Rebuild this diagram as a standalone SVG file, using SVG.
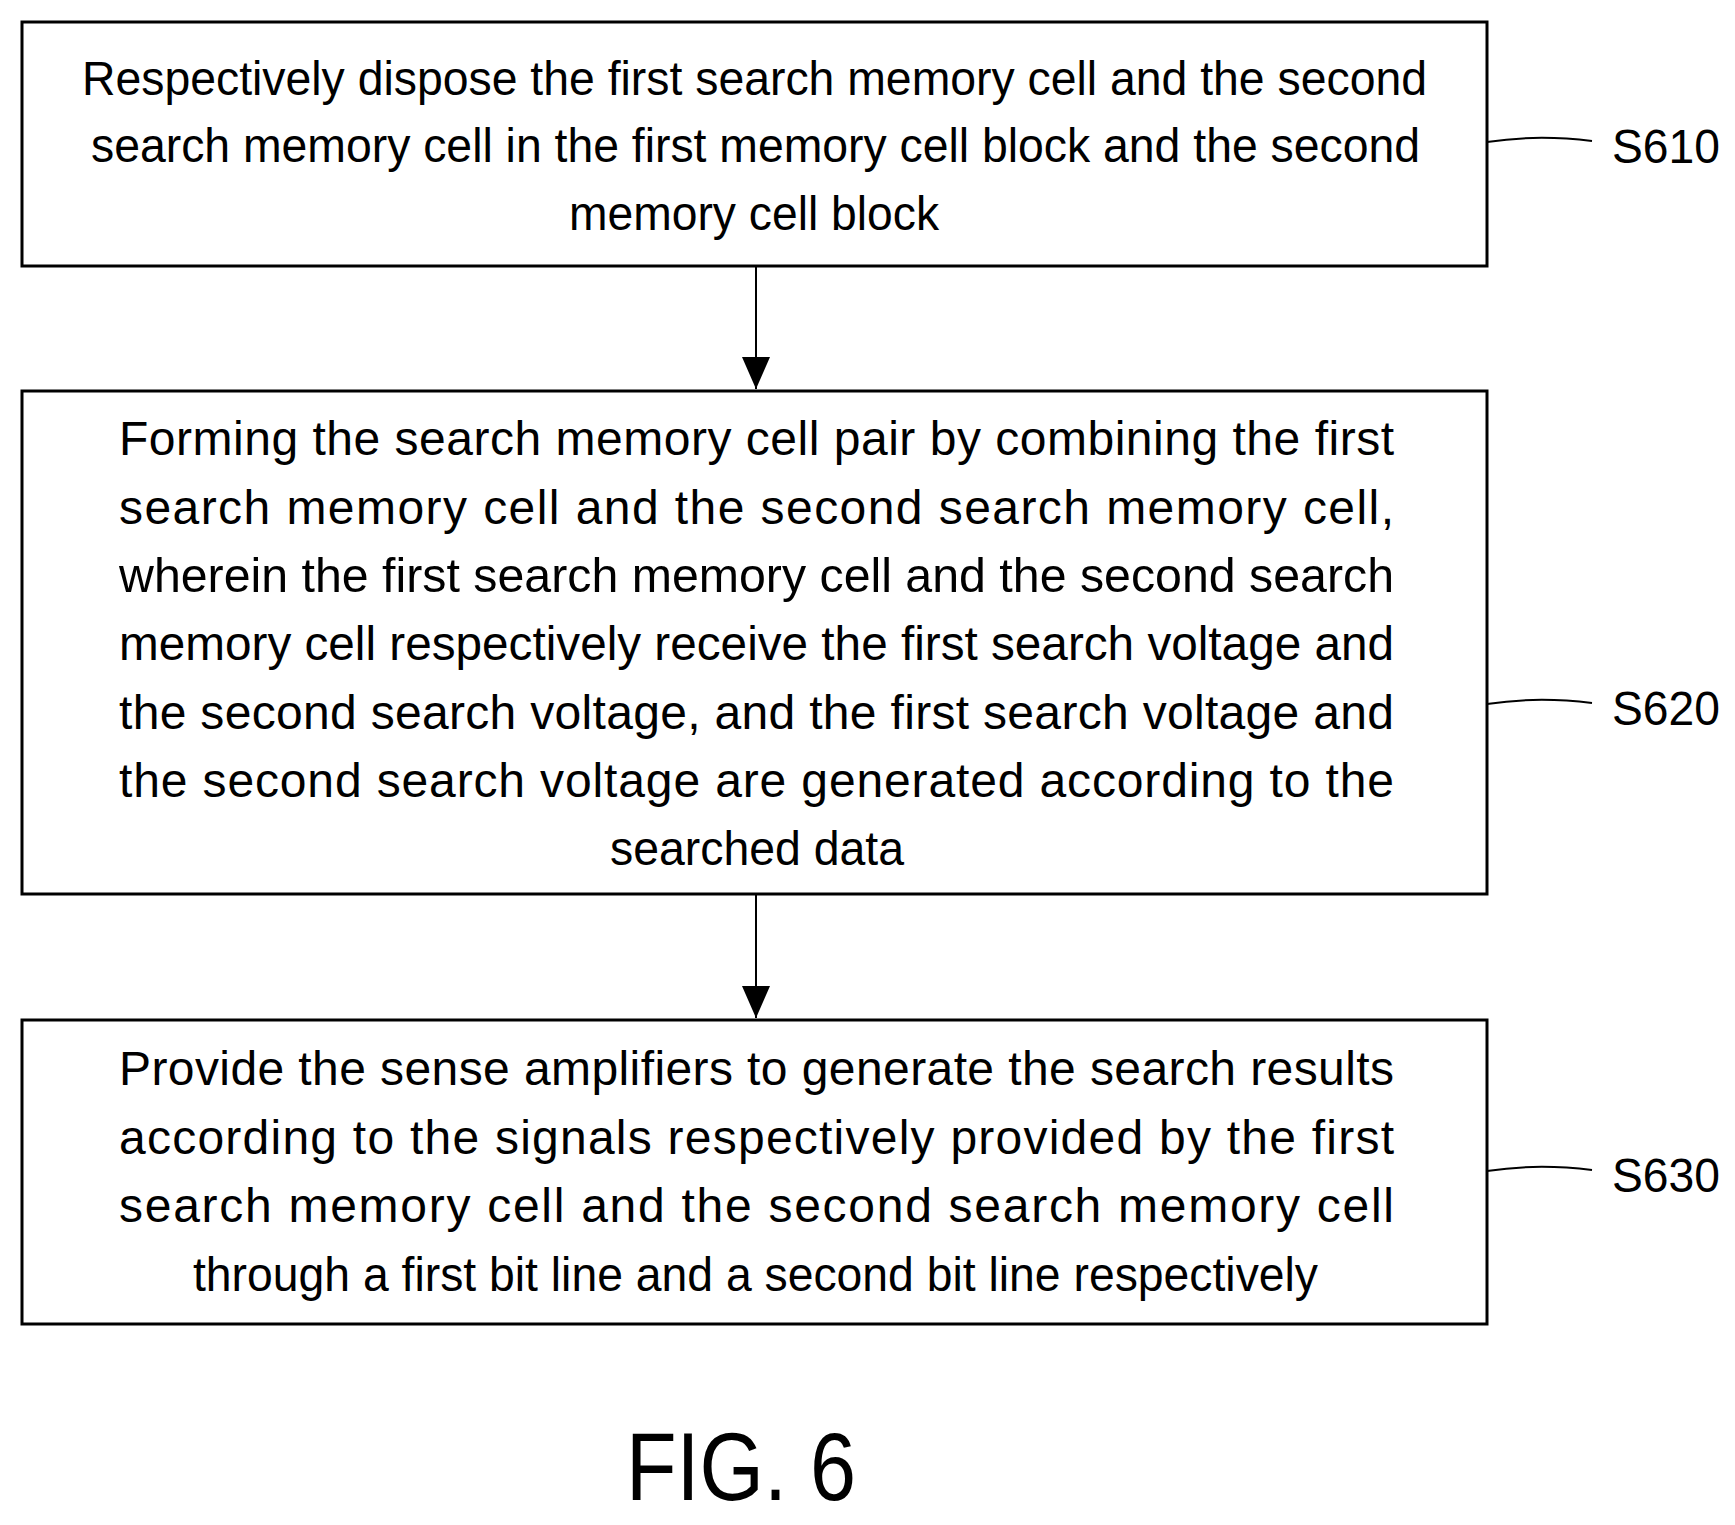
<svg xmlns="http://www.w3.org/2000/svg" width="1735" height="1525" viewBox="0 0 1735 1525">
<style>
.b{fill:#fff;stroke:#000;stroke-width:3}
.t{font-family:"Liberation Sans",Arial,sans-serif;font-size:48px;fill:#000}
.l{fill:none;stroke:#000;stroke-width:2}
</style>
<defs><marker id="a" markerWidth="28" markerHeight="32" refX="14" refY="32" orient="0" markerUnits="userSpaceOnUse"><path d="M0,0 L28,0 L14,32 Z"/></marker></defs>
<rect width="1735" height="1525" fill="#fff"/>
<g id="S610">
<rect class="b" x="22" y="22" width="1465" height="244"/>
<text class="t" x="82" y="95" textLength="1345" lengthAdjust="spacingAndGlyphs">Respectively dispose the first search memory cell and the second</text>
<text class="t" x="91" y="162" textLength="1329" lengthAdjust="spacingAndGlyphs">search memory cell in the first memory cell block and the second</text>
<text class="t" x="569" y="230" textLength="370" lengthAdjust="spacingAndGlyphs">memory cell block</text>
<path class="l" d="M1487,142 C1525,136 1560,137 1592,141"/>
<text class="t" x="1612" y="163" textLength="108" lengthAdjust="spacingAndGlyphs">S610</text>
</g>
<g id="S620">
<rect class="b" x="22" y="391" width="1465" height="503"/>
<text class="t" x="119" y="455" textLength="1275" lengthAdjust="spacing">Forming the search memory cell pair by combining the first</text>
<text class="t" x="119" y="524" textLength="1275" lengthAdjust="spacing">search memory cell and the second search memory cell,</text>
<text class="t" x="119" y="592" textLength="1275" lengthAdjust="spacingAndGlyphs">wherein the first search memory cell and the second search</text>
<text class="t" x="119" y="660" textLength="1275" lengthAdjust="spacingAndGlyphs">memory cell respectively receive the first search voltage and</text>
<text class="t" x="119" y="729" textLength="1275" lengthAdjust="spacing">the second search voltage, and the first search voltage and</text>
<text class="t" x="119" y="797" textLength="1275" lengthAdjust="spacing">the second search voltage are generated according to the</text>
<text class="t" x="610" y="865" textLength="294" lengthAdjust="spacingAndGlyphs">searched data</text>
<path class="l" d="M1487,704 C1525,698 1560,699 1592,703"/>
<text class="t" x="1612" y="725" textLength="108" lengthAdjust="spacingAndGlyphs">S620</text>
</g>
<g id="S630">
<rect class="b" x="22" y="1020" width="1465" height="304"/>
<text class="t" x="119" y="1085" textLength="1275" lengthAdjust="spacing">Provide the sense amplifiers to generate the search results</text>
<text class="t" x="119" y="1154" textLength="1275" lengthAdjust="spacing">according to the signals respectively provided by the first</text>
<text class="t" x="119" y="1222" textLength="1275" lengthAdjust="spacing">search memory cell and the second search memory cell</text>
<text class="t" x="193" y="1291" textLength="1125" lengthAdjust="spacingAndGlyphs">through a first bit line and a second bit line respectively</text>
<path class="l" d="M1487,1171 C1525,1165 1560,1166 1592,1170"/>
<text class="t" x="1612" y="1192" textLength="108" lengthAdjust="spacingAndGlyphs">S630</text>
</g>
<g id="connectors">
<line class="l" x1="756" y1="266" x2="756" y2="389" marker-end="url(#a)"/>
<line class="l" x1="756" y1="894" x2="756" y2="1018" marker-end="url(#a)"/>
</g>
<text x="626" y="1500" textLength="230" lengthAdjust="spacingAndGlyphs" style="font-family:'Liberation Sans',Arial,sans-serif;font-size:96px">FIG. 6</text>
</svg>
